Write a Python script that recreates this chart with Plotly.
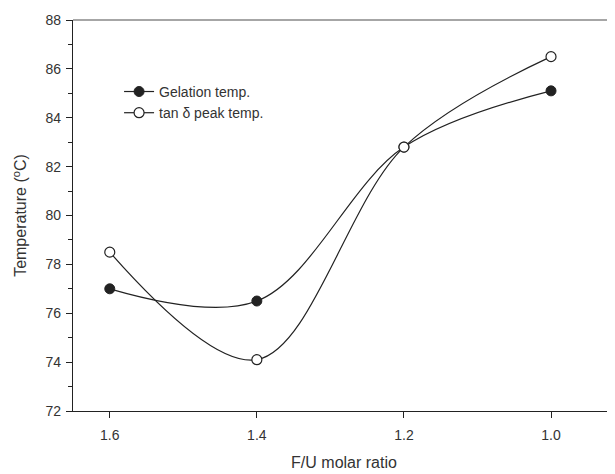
import plotly.graph_objects as go

ratio = [1.6, 1.4, 1.2, 1.0]
gelation = [77.0, 76.5, 82.8, 85.1]
tan_delta = [78.5, 74.1, 82.8, 86.5]

font = "Liberation Sans, Arial, sans-serif"
ink = "#222"

fig = go.Figure()
fig.add_trace(go.Scatter(
    x=ratio, y=gelation, mode="lines+markers", name="Gelation temp.",
    line=dict(color=ink, width=1.2, shape="spline", smoothing=1.0),
    marker=dict(size=10, color=ink, line=dict(color=ink, width=1)),
))
fig.add_trace(go.Scatter(
    x=ratio, y=tan_delta, mode="lines+markers", name="tan δ peak temp.",
    line=dict(color=ink, width=1.2, shape="spline", smoothing=1.0),
    marker=dict(size=10, color="white", line=dict(color=ink, width=1.2)),
))

fig.update_layout(
    width=607, height=466,
    margin=dict(l=65, r=0, t=12, b=63, autoexpand=False),
    paper_bgcolor="white", plot_bgcolor="white",
    font=dict(family=font, size=14, color="#333"),
    legend=dict(x=0.085, y=0.857, xanchor="left", yanchor="top",
                bgcolor="rgba(0,0,0,0)", font=dict(size=14), itemwidth=30,
                tracegroupgap=0),
    showlegend=True,
)
fig.update_xaxes(
    range=[1.65, 0.913], tickvals=[1.6, 1.4, 1.2, 1.0],
    ticktext=["1.6", "1.4", "1.2", "1.0"],
    ticks="outside", ticklen=6, tickcolor=ink, ticklabelstandoff=5,
    showline=True, linecolor=ink, linewidth=1.2, mirror=False,
    showgrid=False, zeroline=False,
    title=dict(text="F/U molar ratio", font=dict(size=16), standoff=14),
)
fig.update_yaxes(
    range=[72, 88], dtick=2, tick0=72,
    ticks="outside", ticklen=6, tickcolor=ink, ticklabelstandoff=2,
    minor=dict(dtick=1, ticks="outside", ticklen=4, tickcolor=ink),
    showline=True, linecolor=ink, linewidth=1.2,
    showgrid=False, zeroline=False,
    title=dict(text="Temperature (<sup>o</sup>C)", font=dict(size=16), standoff=14),
)
fig.add_shape(type="line", xref="paper", yref="paper", x0=0, x1=1, y0=1, y1=1,
              line=dict(color="#888", width=1.5))

fig.write_html("out.html")
